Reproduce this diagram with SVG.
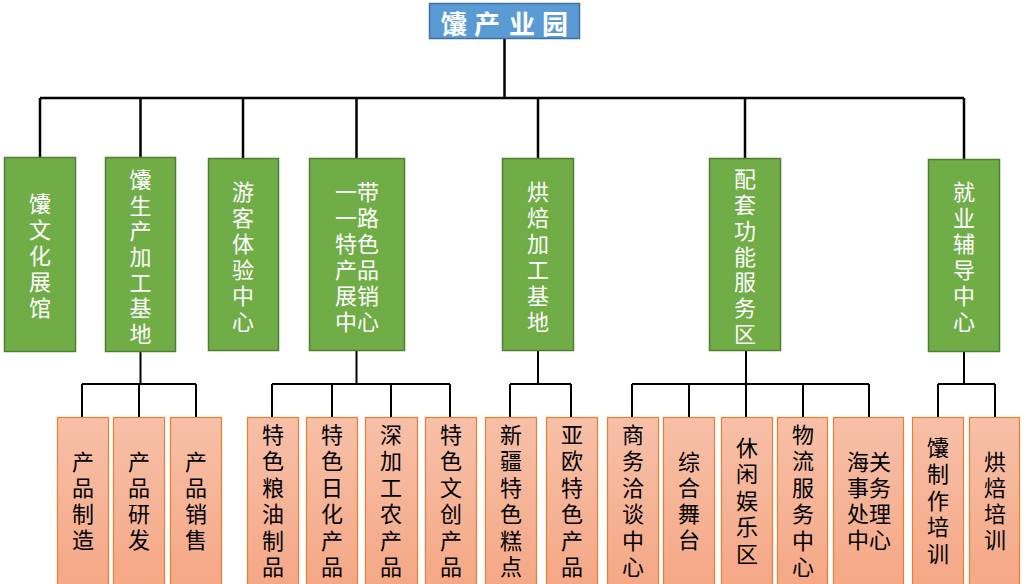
<svg xmlns="http://www.w3.org/2000/svg" width="1024" height="584" viewBox="0 0 1024 584">
<defs>
<linearGradient id="peach" x1="0" y1="0" x2="0" y2="1">
<stop offset="0" stop-color="#f7c0a8"/>
<stop offset="1" stop-color="#f4a683"/>
</linearGradient>
</defs>
<style>
.root{fill:#5b9bd5;stroke:#41719c;stroke-width:1.5}
.mid{fill:#70ad47;stroke:#507e32;stroke-width:1.5}
.leaf{fill:url(#peach);stroke:#ed7d31;stroke-width:1.2}
.t{font-family:"Noto Sans CJK SC","Noto Sans CJK JP",sans-serif;font-size:22px;text-anchor:middle;dominant-baseline:central}
.tw{fill:#ffffff}
.tb{fill:#000000}
.rt{font-family:"Noto Sans CJK SC",sans-serif;font-size:26px;font-weight:bold;fill:#ffffff;text-anchor:middle;dominant-baseline:central}
.c{fill:none;stroke:#000;stroke-width:2.5}
.c2{fill:none;stroke:#000;stroke-width:2}
</style>
<rect width="1024" height="584" fill="#ffffff"/>
<g id="connectors">
<path class="c" d="M504.5 39V98M40 98H964M40 98V157M140.5 98V157M243 98V158M356.5 98V158M538 98V158M745 98V158M964 98V159"/>
<path class="c2" d="M140.5 352V384M82 384H196M82 384V417M139 384V417M196 384V417"/>
<path class="c2" d="M356.5 351V384M272 384H450M272 384V417M332 384V417M391 384V417M450 384V417"/>
<path class="c2" d="M538 351V384M510 384H571M510 384V417M571 384V417"/>
<path class="c2" d="M746 351V384M632 384H869M632 384V417M689 384V417M746 384V417M803 384V417M869 384V417"/>
<path class="c2" d="M964 351V384M938 384H995M938 384V417M995 384V417"/>
</g>
<g id="root">
<rect class="root" x="429.5" y="3.5" width="150" height="35"/>
<text class="rt" x="454 470 487 505 522 538 555" y="22">馕 产 业 园</text>
</g>
<g id="n1">
<rect class="mid" x="4.5" y="157.5" width="71" height="194"/>
<text class="t tw"><tspan x="40" y="202">馕</tspan><tspan x="40" y="228">文</tspan><tspan x="40" y="254">化</tspan><tspan x="40" y="280">展</tspan><tspan x="40" y="306">馆</tspan></text>
</g>
<g id="n2">
<rect class="mid" x="105.5" y="157.5" width="70" height="194"/>
<text class="t tw"><tspan x="140.5" y="178">馕</tspan><tspan x="140.5" y="204">生</tspan><tspan x="140.5" y="229">产</tspan><tspan x="140.5" y="255">加</tspan><tspan x="140.5" y="281">工</tspan><tspan x="140.5" y="306">基</tspan><tspan x="140.5" y="332">地</tspan></text>
</g>
<g id="n3">
<rect class="mid" x="208.5" y="158.5" width="70" height="192"/>
<text class="t tw"><tspan x="243" y="190">游</tspan><tspan x="243" y="216">客</tspan><tspan x="243" y="242">体</tspan><tspan x="243" y="268">验</tspan><tspan x="243" y="294">中</tspan><tspan x="243" y="320">心</tspan></text>
</g>
<g id="n4">
<rect class="mid" x="309.5" y="158.5" width="95" height="192"/>
<text class="t tw"><tspan x="357" y="190">一带</tspan><tspan x="357" y="216">一路</tspan><tspan x="357" y="242">特色</tspan><tspan x="357" y="268">产品</tspan><tspan x="357" y="294">展销</tspan><tspan x="357" y="320">中心</tspan></text>
</g>
<g id="n5">
<rect class="mid" x="502.5" y="158.5" width="71" height="192"/>
<text class="t tw"><tspan x="538" y="190">烘</tspan><tspan x="538" y="216">焙</tspan><tspan x="538" y="242">加</tspan><tspan x="538" y="268">工</tspan><tspan x="538" y="294">基</tspan><tspan x="538" y="320">地</tspan></text>
</g>
<g id="n6">
<rect class="mid" x="709.5" y="158.5" width="71" height="192"/>
<text class="t tw"><tspan x="745" y="177">配</tspan><tspan x="745" y="203">套</tspan><tspan x="745" y="229">功</tspan><tspan x="745" y="255">能</tspan><tspan x="745" y="280">服</tspan><tspan x="745" y="306">务</tspan><tspan x="745" y="332">区</tspan></text>
</g>
<g id="n7">
<rect class="mid" x="928.5" y="159.5" width="71" height="192"/>
<text class="t tw"><tspan x="964" y="190">就</tspan><tspan x="964" y="216">业</tspan><tspan x="964" y="242">辅</tspan><tspan x="964" y="268">导</tspan><tspan x="964" y="294">中</tspan><tspan x="964" y="320">心</tspan></text>
</g>
<g id="l1">
<rect class="leaf" x="57.5" y="417.5" width="51" height="180"/>
<text class="t tb"><tspan x="83" y="460">产</tspan><tspan x="83" y="486">品</tspan><tspan x="83" y="512">制</tspan><tspan x="83" y="538">造</tspan></text>
</g>
<g id="l2">
<rect class="leaf" x="113.5" y="417.5" width="51" height="180"/>
<text class="t tb"><tspan x="139" y="460">产</tspan><tspan x="139" y="486">品</tspan><tspan x="139" y="512">研</tspan><tspan x="139" y="538">发</tspan></text>
</g>
<g id="l3">
<rect class="leaf" x="170.5" y="417.5" width="51" height="180"/>
<text class="t tb"><tspan x="196" y="460">产</tspan><tspan x="196" y="486">品</tspan><tspan x="196" y="512">销</tspan><tspan x="196" y="538">售</tspan></text>
</g>
<g id="l4">
<rect class="leaf" x="247.5" y="417.5" width="51" height="180"/>
<text class="t tb"><tspan x="273" y="433">特</tspan><tspan x="273" y="459">色</tspan><tspan x="273" y="486">粮</tspan><tspan x="273" y="512">油</tspan><tspan x="273" y="539">制</tspan><tspan x="273" y="565">品</tspan></text>
</g>
<g id="l5">
<rect class="leaf" x="306.5" y="417.5" width="51" height="180"/>
<text class="t tb"><tspan x="332" y="433">特</tspan><tspan x="332" y="459">色</tspan><tspan x="332" y="486">日</tspan><tspan x="332" y="512">化</tspan><tspan x="332" y="539">产</tspan><tspan x="332" y="565">品</tspan></text>
</g>
<g id="l6">
<rect class="leaf" x="365.5" y="417.5" width="52" height="180"/>
<text class="t tb"><tspan x="391" y="433">深</tspan><tspan x="391" y="459">加</tspan><tspan x="391" y="486">工</tspan><tspan x="391" y="512">农</tspan><tspan x="391" y="539">产</tspan><tspan x="391" y="565">品</tspan></text>
</g>
<g id="l7">
<rect class="leaf" x="425.5" y="417.5" width="51" height="180"/>
<text class="t tb"><tspan x="451" y="433">特</tspan><tspan x="451" y="459">色</tspan><tspan x="451" y="486">文</tspan><tspan x="451" y="512">创</tspan><tspan x="451" y="539">产</tspan><tspan x="451" y="565">品</tspan></text>
</g>
<g id="l8">
<rect class="leaf" x="485.5" y="417.5" width="51" height="180"/>
<text class="t tb"><tspan x="511" y="433">新</tspan><tspan x="511" y="459">疆</tspan><tspan x="511" y="486">特</tspan><tspan x="511" y="512">色</tspan><tspan x="511" y="539">糕</tspan><tspan x="511" y="565">点</tspan></text>
</g>
<g id="l9">
<rect class="leaf" x="546.5" y="417.5" width="51" height="180"/>
<text class="t tb"><tspan x="572" y="433">亚</tspan><tspan x="572" y="459">欧</tspan><tspan x="572" y="486">特</tspan><tspan x="572" y="512">色</tspan><tspan x="572" y="539">产</tspan><tspan x="572" y="565">品</tspan></text>
</g>
<g id="l10">
<rect class="leaf" x="607.5" y="417.5" width="51" height="180"/>
<text class="t tb"><tspan x="633" y="433">商</tspan><tspan x="633" y="459">务</tspan><tspan x="633" y="486">洽</tspan><tspan x="633" y="512">谈</tspan><tspan x="633" y="539">中</tspan><tspan x="633" y="565">心</tspan></text>
</g>
<g id="l11">
<rect class="leaf" x="663.5" y="417.5" width="51" height="180"/>
<text class="t tb"><tspan x="689" y="460">综</tspan><tspan x="689" y="486">合</tspan><tspan x="689" y="512">舞</tspan><tspan x="689" y="538">台</tspan></text>
</g>
<g id="l12">
<rect class="leaf" x="721.5" y="417.5" width="51" height="180"/>
<text class="t tb"><tspan x="747" y="446">休</tspan><tspan x="747" y="472">闲</tspan><tspan x="747" y="499">娱</tspan><tspan x="747" y="525">乐</tspan><tspan x="747" y="552">区</tspan></text>
</g>
<g id="l13">
<rect class="leaf" x="777.5" y="417.5" width="50" height="180"/>
<text class="t tb"><tspan x="803" y="433">物</tspan><tspan x="803" y="459">流</tspan><tspan x="803" y="486">服</tspan><tspan x="803" y="512">务</tspan><tspan x="803" y="539">中</tspan><tspan x="803" y="565">心</tspan></text>
</g>
<g id="l14">
<rect class="leaf" x="833.5" y="417.5" width="70" height="180"/>
<text class="t tb"><tspan x="869" y="460">海关</tspan><tspan x="869" y="486">事务</tspan><tspan x="869" y="512">处理</tspan><tspan x="869" y="538">中心</tspan></text>
</g>
<g id="l15">
<rect class="leaf" x="912.5" y="417.5" width="51" height="180"/>
<text class="t tb"><tspan x="938" y="446">馕</tspan><tspan x="938" y="472">制</tspan><tspan x="938" y="499">作</tspan><tspan x="938" y="525">培</tspan><tspan x="938" y="552">训</tspan></text>
</g>
<g id="l16">
<rect class="leaf" x="969.5" y="417.5" width="50" height="180"/>
<text class="t tb"><tspan x="995" y="460">烘</tspan><tspan x="995" y="486">焙</tspan><tspan x="995" y="512">培</tspan><tspan x="995" y="538">训</tspan></text>
</g>
</svg>
